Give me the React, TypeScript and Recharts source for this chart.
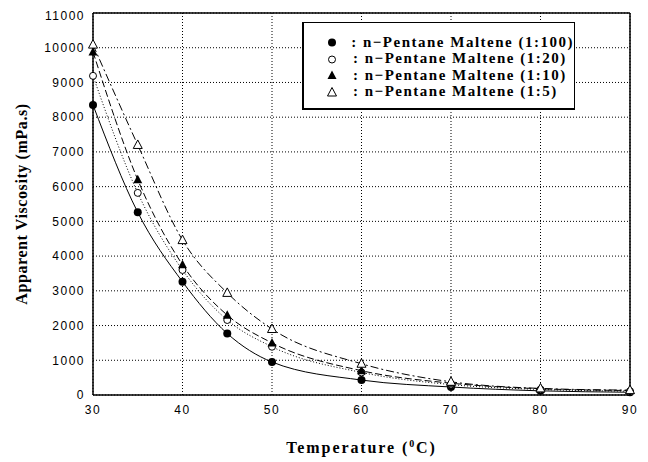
import React from 'react';
import { LineChart, Line, XAxis, YAxis, CartesianGrid, ReferenceLine, Legend } from 'recharts';

const temperatures = [30, 35, 40, 45, 50, 60, 70, 80, 90];
const maltene100 = [8350, 5260, 3260, 1770, 950, 430, 230, 120, 80];
const maltene20 = [9190, 5820, 3600, 2160, 1390, 650, 300, 160, 110];
const maltene10 = [9880, 6200, 3750, 2300, 1500, 700, 340, 180, 130];
const maltene5 = [10090, 7200, 4460, 2940, 1900, 900, 380, 190, 140];
const xTicks = [30, 40, 50, 60, 70, 80, 90];
const yTicks = [0, 1000, 2000, 3000, 4000, 5000, 6000, 7000, 8000, 9000, 10000, 11000];
const seriesNames = [
  ': n\u2212Pentane Maltene (1:100)',
  ': n\u2212Pentane Maltene (1:20)',
  ': n\u2212Pentane Maltene (1:10)',
  ': n\u2212Pentane Maltene (1:5)',
];

const data = temperatures.map((t, i) => ({
  t,
  m100: maltene100[i],
  m20: maltene20[i],
  m10: maltene10[i],
  m5: maltene5[i],
}));

const serifFont = '"Liberation Serif", "DejaVu Serif", serif';
const tickFont = { fontFamily: '"Liberation Sans", Arial, sans-serif', fontSize: 12, fill: '#000', letterSpacing: 1.5 };

type Kind = 'circle' | 'ring' | 'tri' | 'openTri';

const Marker = ({ cx, cy, kind }: { cx: number; cy: number; kind: Kind }) => {
  if (cx == null || cy == null) return null;
  if (kind === 'circle') return <circle cx={cx} cy={cy} r={4} fill="#000" />;
  if (kind === 'ring') return <circle cx={cx} cy={cy} r={3.5} fill="#fff" stroke="#000" strokeWidth={1} />;
  const pts = `${cx},${cy - 5} ${cx - 4.5},${cy + 3.5} ${cx + 4.5},${cy + 3.5}`;
  if (kind === 'tri') return <polygon points={pts} fill="#000" />;
  return <polygon points={pts} fill="#fff" stroke="#000" strokeWidth={1} />;
};

const dot = (kind: Kind) => (props: any) => <Marker key={`${kind}-${props.index}`} cx={props.cx} cy={props.cy} kind={kind} />;

const legendKinds: Kind[] = ['circle', 'ring', 'tri', 'openTri'];

const LegendBox = () => (
  <div
    style={{
      background: '#fff',
      borderTop: '1px solid #000',
      borderRight: '1px solid #000',
      borderLeft: '2px solid #000',
      borderBottom: '2px solid #000',
      width: 273,
      height: 88,
      boxSizing: 'border-box',
      paddingTop: 11,
    }}
  >
    {seriesNames.map((name, i) => (
      <div key={name} style={{ display: 'flex', alignItems: 'center', height: 16.5 }}>
        <svg width={12} height={12} style={{ marginLeft: 22 }}>
          <Marker cx={6} cy={6.5} kind={legendKinds[i]} />
        </svg>
        <span
          style={{
            marginLeft: 15,
            fontFamily: serifFont,
            fontWeight: 'bold',
            fontSize: 15,
            letterSpacing: 1.5,
            color: '#000',
            whiteSpace: 'nowrap',
          }}
        >
          {name}
        </span>
      </div>
    ))}
  </div>
);

const XLabel = ({ viewBox }: any) => {
  const cx = viewBox.x + viewBox.width / 2;
  return (
    <text x={cx} y={445} textAnchor="middle" fontFamily={serifFont} fontWeight="bold" fontSize={16} letterSpacing={1.9} fill="#000">
      Temperature (
      <tspan fontSize={10} dy={-6}>0</tspan>
      <tspan dy={6}>C)</tspan>
    </text>
  );
};

const App = () => (
  <LineChart width={640} height={454} data={data} margin={{ top: 5, right: 18, bottom: 37, left: 0 }}>
    <CartesianGrid stroke="#000" strokeDasharray="1 2" />
    <XAxis
      dataKey="t"
      type="number"
      domain={[30, 90]}
      ticks={xTicks}
      tickLine={false}
      tickSize={0}
      tickMargin={10}
      tick={tickFont}
      axisLine={{ stroke: '#000', strokeWidth: 1.5 }}
      label={<XLabel />}
    />
    <YAxis
      domain={[0, 11000]}
      ticks={yTicks}
      width={85}
      tickLine={false}
      tickSize={0}
      tickMargin={8}
      tick={tickFont}
      axisLine={{ stroke: '#000', strokeWidth: 1.5 }}
      label={{
        value: 'Apparent Viscosity (mPa.s)',
        angle: -90,
        position: 'insideLeft',
        offset: 13,
        style: { fontFamily: serifFont, fontWeight: 'bold', fontSize: 16, letterSpacing: 0.6, fill: '#000', textAnchor: 'middle' },
      }}
    />
    <ReferenceLine y={11000} stroke="#000" strokeWidth={1.5} />
    <ReferenceLine x={90} stroke="#000" strokeWidth={1.5} />
    <Legend
      layout="horizontal"
      verticalAlign="middle"
      align="center"
      content={<LegendBox />}
      wrapperStyle={{ position: 'absolute', left: 294, top: 14, width: 273 }}
    />
    <Line type="monotone" dataKey="m100" stroke="#000" strokeWidth={1} dot={dot('circle')} isAnimationActive={false} />
    <Line type="monotone" dataKey="m20" stroke="#000" strokeWidth={1} strokeDasharray="1 2" dot={dot('ring')} isAnimationActive={false} />
    <Line type="monotone" dataKey="m10" stroke="#000" strokeWidth={1} strokeDasharray="7 3" dot={dot('tri')} isAnimationActive={false} />
    <Line type="monotone" dataKey="m5" stroke="#000" strokeWidth={1} strokeDasharray="8 3 2 3" dot={dot('openTri')} isAnimationActive={false} />
  </LineChart>
);

export default App;
